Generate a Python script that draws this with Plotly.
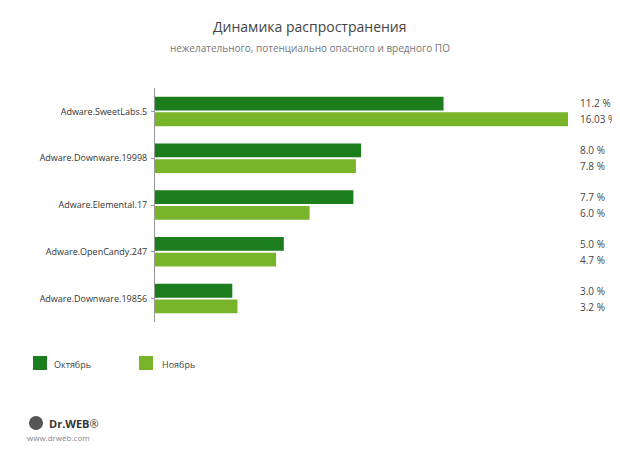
import plotly.graph_objects as go

categories = ["Adware.SweetLabs.5", "Adware.Downware.19998", "Adware.Elemental.17",
              "Adware.OpenCandy.247", "Adware.Downware.19856"]
october = [11.2, 8.0, 7.7, 5.0, 3.0]
november = [16.03, 7.8, 6.0, 4.7, 3.2]
oct_labels = ["11.2 %", "8.0 %", "7.7 %", "5.0 %", "3.0 %"]
nov_labels = ["16.03 %", "7.8 %", "6.0 %", "4.7 %", "3.2 %"]

DARK = "#1b7d1b"
LIGHT = "#78b52a"
FONT = "Open Sans"

fig = go.Figure()
fig.add_trace(go.Bar(y=categories, x=october, orientation="h", name="Октябрь",
                     marker=dict(color=DARK, line=dict(width=0)), showlegend=False))
fig.add_trace(go.Bar(y=categories, x=november, orientation="h", name="Ноябрь",
                     marker=dict(color=LIGHT, line=dict(width=0)), showlegend=False))

OFF = 8  # page body margin
W, H = 620, 457
L, T = 155 - OFF, 88 - OFF
pw, ph = 413, 234
R = W - L - pw
B = H - T - ph

def px(xp): return (xp - OFF - L) / pw
def py(yp): return (T + ph - (yp - OFF)) / ph

ann = []
n = len(categories)
step = 1.0 / n
for i, (a, b) in enumerate(zip(oct_labels, nov_labels)):
    yc = 1 - (i + 0.5) * step
    for lab, dy in ((a, 8), (b, -8)):
        ann.append(dict(x=px(578), y=yc, xref="paper", yref="paper", text=lab,
                        showarrow=False, xanchor="left", yanchor="middle", yshift=dy,
                        font=dict(size=10, color="#444", family=FONT)))

def txt(x, y, t, size, color, xa="left"):
    return dict(x=px(x), y=py(y), xref="paper", yref="paper", text=t, showarrow=False,
                xanchor=xa, yanchor="middle", font=dict(size=size, color=color, family=FONT))

ann += [
    txt(310, 26, "Динамика распространения", 14, "#444", "center"),
    txt(310, 48, "нежелательного, потенциально опасного и вредного ПО", 10, "#777", "center"),
    txt(52, 364, "Октябрь", 9, "#444"),
    txt(160, 364, "Ноябрь", 9, "#444"),
    txt(47, 423, "<b>Dr.WEB</b>®", 11, "#333"),
    txt(25, 437, "www.drweb.com", 8, "#888"),
]

shapes = [
    dict(type="rect", xref="paper", yref="paper", x0=px(33), x1=px(47), y0=py(356), y1=py(370),
         fillcolor=DARK, line=dict(width=0)),
    dict(type="rect", xref="paper", yref="paper", x0=px(139), x1=px(153), y0=py(356), y1=py(370),
         fillcolor=LIGHT, line=dict(width=0)),
    dict(type="circle", xref="paper", yref="paper", x0=px(29), x1=px(43), y0=py(416), y1=py(430),
         fillcolor="#555", line=dict(width=0)),
]

fig.update_layout(
    width=W, height=H, margin=dict(l=L, r=R, t=T, b=B),
    paper_bgcolor="white", plot_bgcolor="white",
    barmode="group", bargap=0.33, bargroupgap=0.12,
    xaxis=dict(range=[0, 16.03], visible=False),
    yaxis=dict(autorange="reversed", showline=True, linecolor="#999", linewidth=1,
               ticks="outside", ticklen=3, tickcolor="#999", showgrid=False,
               tickfont=dict(size=9, color="#333", family=FONT), ticklabelstandoff=2),
    annotations=ann, shapes=shapes,
)
fig.write_html("out.html")
